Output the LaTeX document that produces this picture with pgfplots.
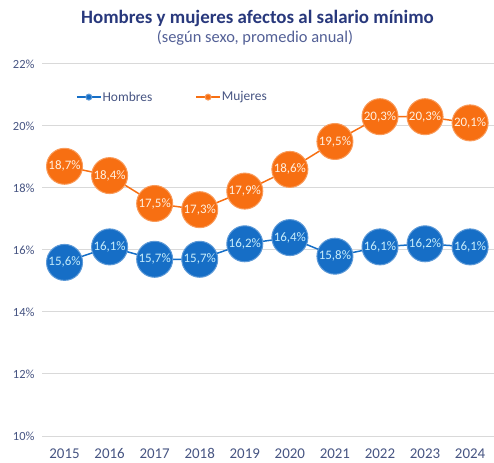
\documentclass[border=0pt]{standalone}
\usepackage{pgfplots}
\pgfplotsset{compat=1.18}
\usepackage{fontspec}
\setmainfont{Carlito}
\definecolor{orng}{RGB}{247,111,18}
\definecolor{blu}{RGB}{22,110,198}
\definecolor{navy}{RGB}{40,56,124}
\definecolor{tickc}{RGB}{70,84,130}
\definecolor{gridc}{RGB}{217,217,217}
\begin{document}
\begin{tikzpicture}[x=1bp,y=1bp]
\path[use as bounding box] (-42,-27) rectangle (452,436);
\begin{axis}[
  at={(0,0)}, anchor=south west,
  scale only axis, width=452bp, height=372bp,
  xmin=2014.5, xmax=2024.53,
  ymin=10, ymax=22,
  xtick={2015,...,2024},
  ytick={10,12,...,22},
  ymajorgrids, grid style={gridc, line width=1pt},
  axis line style={draw=none},
  major tick length=0pt,
  /pgf/number format/assume math mode=true,
  /pgf/number format/1000 sep={},
  xticklabel style={font=\fontsize{15}{16}\selectfont, text=tickc, yshift=-9bp},
  yticklabel style={font=\fontsize{12.5}{13}\selectfont, text=tickc, xshift=-4bp},
  yticklabel={\pgfmathprintnumber{\tick}\%},
  clip=false,
  point meta=y,
  nodes near coords={\pgfmathprintnumber[fixed,fixed zerofill,precision=1,use comma]{\pgfplotspointmeta}\%},
  nodes near coords style={anchor=center, font=\fontsize{13}{14}\selectfont},
  legend style={draw=none, fill=none, at={(0.075,0.911)}, anchor=west, legend columns=2,
    font=\fontsize{13.5}{14}\selectfont, text=tickc, inner xsep=0pt,
    /tikz/every odd column/.append style={column sep=0bp},
    /tikz/every even column/.append style={column sep=42bp},
    nodes={inner xsep=1bp}},
  legend image code/.code={\draw[mark repeat=2,mark phase=2,#1,mark size=3pt] plot coordinates {(0bp,0bp)(12bp,0bp)(24bp,0bp)};},
]
\addplot[blu, line width=1.5pt, mark=*, mark size=18bp, mark options={fill=blu, draw=blu!70!white, line width=1pt},
  nodes near coords style={text=cyan!22!white}]
coordinates {(2015,15.6)(2016,16.1)(2017,15.7)(2018,15.7)(2019,16.2)(2020,16.4)(2021,15.8)(2022,16.1)(2023,16.2)(2024,16.1)};
\addlegendentry{Hombres}
\addplot[orng, line width=1.5pt, mark=*, mark size=18bp, mark options={fill=orng, draw=orng!70!white, line width=1pt},
  nodes near coords style={text=orange!12!white}]
coordinates {(2015,18.7)(2016,18.4)(2017,17.5)(2018,17.3)(2019,17.9)(2020,18.6)(2021,19.5)(2022,20.3)(2023,20.3)(2024,20.1)};
\addlegendentry{Mujeres}
\end{axis}
\node[font=\fontsize{19}{20}\selectfont\bfseries, text=navy] at (215.5,418) {Hombres y mujeres afectos al salario mínimo};
\node[font=\fontsize{16.5}{17}\selectfont, text=navy!80!white] at (213,398) {(según sexo, promedio anual)};
\end{tikzpicture}
\end{document}
